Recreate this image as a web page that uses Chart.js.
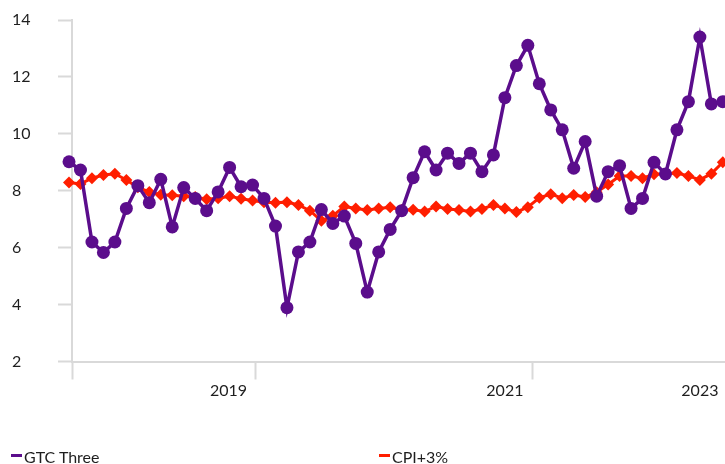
<!DOCTYPE html>
<html>
<head>
<meta charset="utf-8">
<script src="https://cdn.jsdelivr.net/npm/chart.js@4/dist/chart.umd.min.js"></script>
<style>
  body { margin: 0; background: #fff; }
  #wrap { position: relative; width: 725px; height: 464px; overflow: hidden; font-family: Lato, "Liberation Sans", sans-serif; }
  .leg { position: absolute; top: 449px; font-size: 16px; line-height: 16px; color: #1e1e1e; white-space: nowrap; }
  .leg i { position: absolute; left: -13px; top: 5px; width: 11px; height: 3px; }
</style>
</head>
<body>
<div id="wrap">
  <canvas id="chart" width="725" height="464"></canvas>
  <div class="leg" style="left:24px"><i style="background:#5b0d8c"></i>GTC Three</div>
  <div class="leg" style="left:392px"><i style="background:#ff1e00"></i>CPI+3%</div>
</div>
<script>
// monthly values, one per point (x = month index)
const gtcThree = [
  9.02, 8.73, 6.20, 5.83, 6.20, 7.38, 8.18, 7.58, 8.40, 6.73,
  8.11, 7.73, 7.30, 7.96, 8.82, 8.14, 8.20, 7.73, 6.76, 3.89,
  5.85, 6.20, 7.34, 6.85, 7.11, 6.15, 4.44, 5.85, 6.64, 7.30,
  8.46, 9.37, 8.73, 9.32, 8.96, 9.32, 8.67, 9.26, 11.27, 12.40,
  13.11, 11.76, 10.84, 10.14, 8.79, 9.73, 7.81, 8.67, 8.88, 7.38,
  7.73, 9.00, 8.59, 10.14, 11.13, 13.40, 11.05, 11.13
];
const cpiPlus3 = [
  8.29, 8.24, 8.44, 8.55, 8.60, 8.38, 8.12, 7.96, 7.86, 7.84,
  7.81, 7.78, 7.70, 7.74, 7.81, 7.72, 7.66, 7.60, 7.58, 7.60,
  7.50, 7.30, 6.95, 7.12, 7.45, 7.38, 7.32, 7.38, 7.42, 7.32,
  7.33, 7.27, 7.45, 7.36, 7.32, 7.27, 7.36, 7.50, 7.38, 7.25,
  7.42, 7.75, 7.88, 7.74, 7.85, 7.78, 7.95, 8.22, 8.52, 8.52,
  8.44, 8.58, 8.60, 8.62, 8.52, 8.38, 8.60, 9.00
];
const yearLabels = ["2019", "2021", "2023"];
const yTicks = [2, 4, 6, 8, 10, 12, 14];

// axis placement (in month-index units)
const xMin = 0.26, xMax = 57.19;
const yearLabelAt = [13.9, 38, 55];
const yearTickAt = [xMin, 16.3, 40.45];

const axisGrey = "#d9d9d9";
const textColor = "#1e1e1e";
const font = { family: "Lato, 'Liberation Sans', sans-serif", size: 16 };

const toPoints = (arr) => arr.map((v, i) => ({ x: i, y: v }));

new Chart(document.getElementById("chart"), {
  type: "line",
  data: {
    datasets: [
      {
        label: "GTC Three",
        data: toPoints(gtcThree),
        borderColor: "#5b0d8c",
        backgroundColor: "#5b0d8c",
        borderWidth: 3.5,
        pointRadius: 6.5,
        pointBorderWidth: 0,
        pointStyle: "circle",
        tension: 0,
        clip: false,
      },
      {
        label: "CPI+3%",
        data: toPoints(cpiPlus3),
        borderColor: "#ff1e00",
        backgroundColor: "#ff1e00",
        borderWidth: 3,
        pointRadius: 6,
        pointBorderWidth: 0,
        pointStyle: "rectRot",
        tension: 0,
        clip: false,
      },
    ],
  },
  options: {
    responsive: false,
    animation: false,
    layout: { autoPadding: false, padding: { left: 12, right: 0, top: 20, bottom: 0 } },
    plugins: { legend: { display: false }, tooltip: { enabled: false } },
    scales: {
      x: {
        type: "linear",
        min: xMin,
        max: xMax,
        afterBuildTicks: (scale) => {
          const vals = [...yearTickAt, ...yearLabelAt].sort((a, b) => a - b);
          scale.ticks = vals.map((v) => ({ value: v }));
        },
        afterFit: (scale) => {
          scale.height = 102.5;
          scale.paddingLeft = 0;
          scale.paddingRight = 0;
        },
        border: { display: true, color: axisGrey, width: 2 },
        grid: {
          drawOnChartArea: false,
          drawTicks: true,
          tickLength: 18,
          tickWidth: 2,
          tickColor: (ctx) =>
            ctx.tick && yearLabelAt.includes(ctx.tick.value) ? "rgba(0,0,0,0)" : axisGrey,
        },
        ticks: {
          autoSkip: false,
          maxRotation: 0,
          padding: 2,
          color: textColor,
          font: font,
          callback: (v) => {
            const k = yearLabelAt.indexOf(v);
            return k >= 0 ? yearLabels[k] : "";
          },
        },
      },
      y: {
        min: 2,
        max: 14,
        afterBuildTicks: (scale) => { scale.ticks = yTicks.map((v) => ({ value: v })); },
        afterFit: (scale) => { scale.width = 60; },
        border: { display: true, color: axisGrey, width: 2 },
        grid: {
          drawOnChartArea: false,
          drawTicks: true,
          tickLength: 14,
          tickWidth: 2,
          tickColor: axisGrey,
        },
        ticks: {
          crossAlign: "far",
          padding: 4,
          color: textColor,
          font: font,
        },
      },
    },
  },
});
</script>
</body>
</html>
